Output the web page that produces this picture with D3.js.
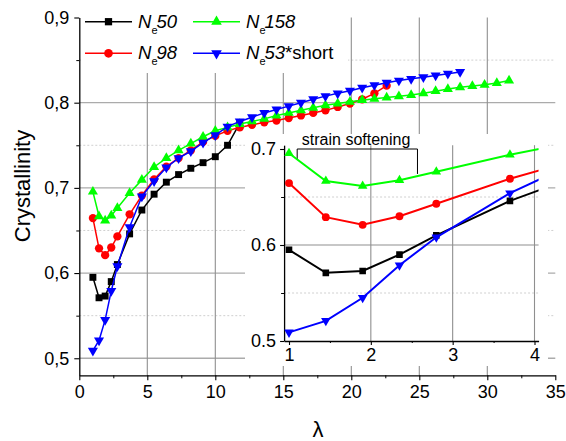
<!DOCTYPE html>
<html><head><meta charset="utf-8">
<script src="https://cdn.jsdelivr.net/npm/d3@7"></script>
<style>body{margin:0;background:#fff}svg{display:block;font-family:"Liberation Sans",Arial,sans-serif}</style>
</head><body>
<svg id="c" width="566" height="441"></svg>
<script>
// ---- data ----
const lambda = [1,1.45,1.9,2.35,2.8,3.7,4.6,5.5,6.4,7.3,8.2,9.1,10,10.9,11.8,12.7,13.6,14.5,15.4,16.3,17.2,18.1,19,19.9,20.8,21.7,22.6,23.5,24.4,25.3,26.2,27.1,28,28.9,29.8,30.7,31.6];
const ne50  = [0.595,0.571,0.573,0.590,0.610,0.646,0.674,0.6926,0.7067,0.7156,0.723,0.7296,0.7366,0.750,0.776];
const ne98  = [0.6645,0.629,0.621,0.630,0.643,0.669,0.691,0.710,0.725,0.735,0.744,0.754,0.761,0.767,0.771,0.774,0.777,0.779,0.782,0.785,0.788,0.791,0.795,0.799,0.804,0.811,0.820];
const ne158 = [0.6955,0.6667,0.6615,0.6674,0.6764,0.694,0.7094,0.7245,0.735,0.744,0.752,0.760,0.767,0.771,0.775,0.778,0.781,0.785,0.788,0.791,0.794,0.797,0.799,0.801,0.803,0.8045,0.806,0.8075,0.809,0.811,0.8135,0.816,0.818,0.8195,0.821,0.823,0.826];
const ne53s = [0.509,0.521,0.545,0.579,0.608,0.654,0.690,0.708,0.724,0.735,0.743,0.753,0.762,0.772,0.778,0.783,0.788,0.792,0.796,0.800,0.804,0.8077,0.811,0.814,0.8175,0.8205,0.8235,0.826,0.828,0.830,0.832,0.834,0.836];
const seriesNames = ["50","98","158","53"];
const seriesSuffix = ["","","","*short"];
const xTicks = [0,5,10,15,20,25,30,35];
const yTicks = [0.5,0.6,0.7,0.8,0.9];
const insetXTicks = [1,2,3,4];
const insetYTicks = [0.5,0.6,0.7];
const annotation = "strain softening";
const xTitle = "λ", yTitle = "Crystallinity";

const series = [
  {name:seriesNames[0], suf:seriesSuffix[0], vals:ne50,  color:"#000000", sym:"square"},
  {name:seriesNames[1], suf:seriesSuffix[1], vals:ne98,  color:"#ff0000", sym:"circle"},
  {name:seriesNames[2], suf:seriesSuffix[2], vals:ne158, color:"#00ff00", sym:"up"},
  {name:seriesNames[3], suf:seriesSuffix[3], vals:ne53s, color:"#0000ff", sym:"down"}
];
series.forEach(s => s.pts = s.vals.map((v,i)=>[lambda[i],v]));

const svg = d3.select("#c");
const FONT = 18;
function symPath(kind, scale){
  const k = scale||1;
  if(kind==="square") return d3.symbol(d3.symbolSquare, 48*k)();
  if(kind==="circle") return d3.symbol(d3.symbolCircle, 54*k)();
  return d3.symbol(d3.symbolTriangle, 44*k)();
}
function symTransform(kind,x,y){ return `translate(${x},${y})` + (kind==="down"?" rotate(180)":""); }

// ---- main scales ----
const x = d3.scaleLinear([0,35],[79.3,555.3]);
const y = d3.scaleLinear([0.48,0.9],[375.3,17.5]);
const fmtC = d => d3.format(".1f")(d).replace(".",",");

// gridlines
const grid = svg.append("g");
[0.55,0.65,0.75,0.85].forEach(v=>grid.append("line").attr("x1",x(0)).attr("x2",x(35)).attr("y1",y(v)).attr("y2",y(v))
  .attr("stroke","#c4c4c4").attr("stroke-width",0.8).attr("stroke-dasharray","2,2"));
[0.5,0.6,0.7,0.8].forEach(v=>grid.append("line").attr("x1",x(0)).attr("x2",x(35)).attr("y1",y(v)).attr("y2",y(v))
  .attr("stroke","#ababab").attr("stroke-width",1.3));
[5,10,15,20,25,30].forEach(v=>grid.append("line").attr("x1",x(v)).attr("x2",x(v)).attr("y1",y(0.9)).attr("y2",y(0.48))
  .attr("stroke","#8f8f8f").attr("stroke-width",1.1));

// data lines
const line = d3.line().x(d=>x(d[0])).y(d=>y(d[1]));
series.forEach(s=>{
  svg.append("path").attr("d",line(s.pts)).attr("fill","none").attr("stroke",s.color).attr("stroke-width",1.5);
  svg.append("g").selectAll("path").data(s.pts).join("path")
    .attr("d",symPath(s.sym)).attr("transform",d=>symTransform(s.sym,x(d[0]),y(d[1]))).attr("fill",s.color);
});

// axes
function styleAxis(g){ g.selectAll(".domain").attr("stroke","#000").attr("stroke-width",1.3);
  g.selectAll(".tick line").attr("stroke","#000").attr("stroke-width",1.1);
  g.selectAll("text").attr("font-size",FONT).attr("fill","#000").attr("font-family","Liberation Sans, Arial"); }
const gx = svg.append("g").attr("transform",`translate(0,${y(0.48)})`)
  .call(d3.axisBottom(x).tickValues(xTicks).tickSize(5).tickSizeOuter(0).tickPadding(5).tickFormat(d3.format("d")));
styleAxis(gx);
const gxm = svg.append("g").attr("transform",`translate(0,${y(0.48)})`)
  .call(d3.axisBottom(x).tickValues(d3.range(2.5,35,5)).tickSize(3).tickFormat(""));
gxm.select(".domain").remove(); gxm.selectAll(".tick line").attr("stroke","#000");
const gy = svg.append("g").attr("transform",`translate(${x(0)},0)`)
  .call(d3.axisLeft(y).tickValues(yTicks).tickSize(5).tickSizeOuter(0).tickPadding(5).tickFormat(fmtC));
styleAxis(gy);
const gym = svg.append("g").attr("transform",`translate(${x(0)},0)`)
  .call(d3.axisLeft(y).tickValues([0.55,0.65,0.75,0.85]).tickSize(3).tickFormat(""));
gym.select(".domain").remove(); gym.selectAll(".tick line").attr("stroke","#000");

// titles
svg.append("text").attr("x",318).attr("y",437).attr("text-anchor","middle").attr("font-size",22).text(xTitle);
svg.append("text").attr("transform","translate(30,186) rotate(-90)").attr("text-anchor","middle").attr("font-size",22).text(yTitle);

// ---- legend ----
const lg = svg.append("g");
lg.append("rect").attr("x",81).attr("y",17).attr("width",267).attr("height",56).attr("fill","#fff");
const legPos = [[85,21.7],[85,53.3],[193,21.7],[193,53.3]];
series.forEach((s,i)=>{
  const [lx,ly] = legPos[i];
  lg.append("line").attr("x1",lx).attr("x2",lx+47).attr("y1",ly).attr("y2",ly).attr("stroke",s.color).attr("stroke-width",1.5);
  lg.append("path").attr("d",symPath(s.sym,1.1)).attr("transform",symTransform(s.sym,lx+23.5,ly)).attr("fill",s.color);
  const t = lg.append("text").attr("x",lx+53).attr("y",ly+6).attr("font-size",18.5);
  t.append("tspan").attr("font-style","italic").text("N");
  t.append("tspan").attr("font-size",11).attr("dy",6).text("e");
  t.append("tspan").attr("font-style","italic").attr("dy",-6).attr("dx",-1).text(s.name);
  if(s.suf) t.append("tspan").text(s.suf);
});

// ---- inset ----
const ins = svg.append("g");
ins.append("rect").attr("x",245).attr("y",134).attr("width",303).attr("height",232).attr("fill","#fff");
const xi = d3.scaleLinear([1,4],[289,534.5]);
const yi = d3.scaleLinear([0.5,0.7],[341,149]);
const xiMin = 0.94, xiMax = 4.05, yiMax = 0.704;
[0.55,0.65].forEach(v=>ins.append("line").attr("x1",xi(xiMin)).attr("x2",xi(xiMax)).attr("y1",yi(v)).attr("y2",yi(v))
  .attr("stroke","#c4c4c4").attr("stroke-width",0.8).attr("stroke-dasharray","2,2"));
[0.6].forEach(v=>ins.append("line").attr("x1",xi(xiMin)).attr("x2",xi(xiMax)).attr("y1",yi(v)).attr("y2",yi(v))
  .attr("stroke","#8f8f8f").attr("stroke-width",1.1));
[2,3,4].forEach(v=>ins.append("line").attr("x1",xi(v)).attr("x2",xi(v)).attr("y1",yi(yiMax)).attr("y2",yi(0.5))
  .attr("stroke","#8f8f8f").attr("stroke-width",1.1));
svg.append("defs").append("clipPath").attr("id","ic").append("rect")
  .attr("x",xi(xiMin)).attr("y",yi(yiMax)-6).attr("width",xi(xiMax)-xi(xiMin)).attr("height",yi(0.5)-yi(yiMax)+6);

// inset axes
const ixs = d3.scaleLinear([xiMin,xiMax],[xi(xiMin),xi(xiMax)]);
const iys = d3.scaleLinear([0.5,yiMax],[yi(0.5),yi(yiMax)]);
const gix = ins.append("g").attr("transform",`translate(0,${yi(0.5)})`)
  .call(d3.axisBottom(ixs).tickValues(insetXTicks).tickSize(4).tickSizeOuter(0).tickPadding(3).tickFormat(d3.format("d")));
styleAxis(gix);
const gixm = ins.append("g").attr("transform",`translate(0,${yi(0.5)})`)
  .call(d3.axisBottom(ixs).tickValues([1.5,2.5,3.5]).tickSize(2).tickFormat(""));
gixm.select(".domain").remove(); gixm.selectAll(".tick line").attr("stroke","#000");
const giy = ins.append("g").attr("transform",`translate(${xi(xiMin)},0)`)
  .call(d3.axisLeft(iys).tickValues(insetYTicks).tickSize(4).tickSizeOuter(0).tickPadding(4).tickFormat(d3.format(".1f")));
styleAxis(giy);
const giym = ins.append("g").attr("transform",`translate(${xi(xiMin)},0)`)
  .call(d3.axisLeft(iys).tickValues([0.55,0.65]).tickSize(3).tickFormat(""));
giym.select(".domain").remove(); giym.selectAll(".tick line").attr("stroke","#000");

// annotation bracket
ins.append("path").attr("d",`M${xi(1.1)},${yi(0.6885)}V${yi(0.7)}H${xi(2.57)}V${yi(0.674)}`)
  .attr("fill","none").attr("stroke","#000").attr("stroke-width",1);
ins.append("text").attr("x",xi(1.82)).attr("y",145).attr("text-anchor","middle").attr("font-size",16).text(annotation);

// inset lines
const iline = d3.line().x(d=>xi(d[0])).y(d=>yi(d[1]));
const ig = ins.append("g").attr("clip-path","url(#ic)");
series.forEach(s=>{
  const pts = s.pts.filter(d=>d[0]<=4.7);
  ig.append("path").attr("d",iline(pts)).attr("fill","none").attr("stroke",s.color).attr("stroke-width",2);
  ig.append("g").selectAll("path").data(pts.filter(d=>d[0]<=xiMax)).join("path")
    .attr("d",symPath(s.sym,0.9)).attr("transform",d=>symTransform(s.sym,xi(d[0]),yi(d[1]))).attr("fill",s.color);
});
</script>
</body></html>
